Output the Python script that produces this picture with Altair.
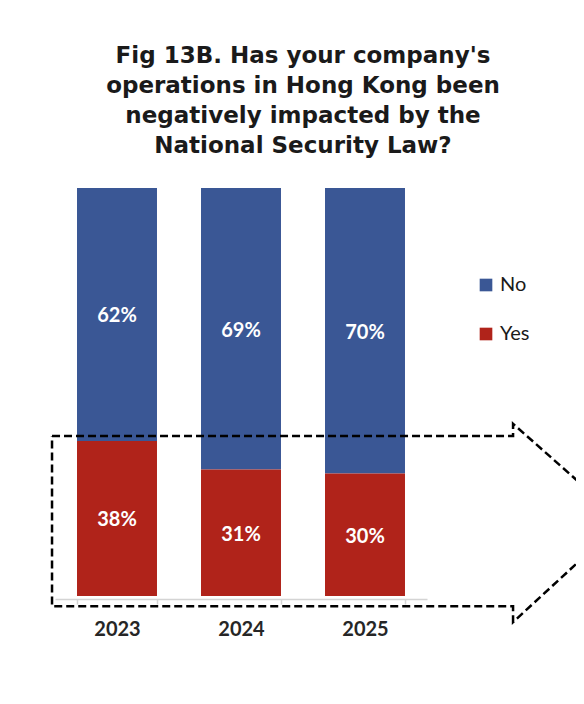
import altair as alt
import pandas as pd

# ---- data ----
years = ["2023", "2024", "2025"]
answers = ["No", "Yes"]
no_share = [62, 69, 70]
yes_share = [38, 31, 30]
colors = ["#3A5795", "#B0231A"]

# dashed arrow outline, in chart units (x: category bands 0..3, y: percent)
arrow_x = [-0.024, 3.694, 3.694, 4.58, 3.694, 3.694, -0.024, -0.024]
arrow_y = [39.2, 39.2, 42.2, 18.4, -6.4, -2.5, -2.5, 39.2]

title_lines = [
    "Fig 13B. Has your company's",
    "operations in Hong Kong been",
    "negatively impacted by the",
    "National Security Law?",
]

df = pd.DataFrame({
    "year": years * 2,
    "answer": ["No"] * len(years) + ["Yes"] * len(years),
    "share": no_share + yes_share,
})
df["ord"] = [1] * len(years) + [0] * len(years)
arrow_df = pd.DataFrame({"ax": arrow_x, "ay": arrow_y, "i": list(range(len(arrow_x)))})

FONT = "Lato"
TITLE_FONT = "DejaVu Sans"


def yscale():
    return alt.Scale(domain=[0, 100], nice=False)


def xscale():
    return alt.Scale(type="band", paddingInner=0.355, paddingOuter=0.1775)


bars = alt.Chart(df).mark_bar().encode(
    x=alt.X(
        "year:N",
        sort=years,
        scale=xscale(),
        axis=alt.Axis(
            title=None,
            labelAngle=0,
            labelFont=FONT,
            labelFontSize=20,
            labelFontWeight="bold",
            labelColor="#262626",
            labelPadding=15,
            domainColor="#d4d4d4",
            domainWidth=1.5,
            tickColor="#d4d4d4",
            tickWidth=1.5,
            tickSize=5,
            tickBand="extent",
            offset=3,
        ),
    ),
    y=alt.Y("share:Q", stack="zero", scale=yscale(), axis=None),
    color=alt.Color(
        "answer:N",
        scale=alt.Scale(domain=answers, range=colors),
        legend=alt.Legend(
            title=None,
            orient="none",
            legendX=421,
            legendY=87,
            symbolType="square",
            symbolSize=160,
            symbolStrokeWidth=0,
            labelFont=FONT,
            labelFontSize=20,
            labelColor="#1a1a1a",
            labelOffset=4,
            rowPadding=29,
            padding=0,
        ),
    ),
    order=alt.Order("ord:Q", sort="ascending"),
)

labels = (
    alt.Chart(df)
    .transform_stack(
        stack="share",
        groupby=["year"],
        sort=[alt.SortField("ord", order="ascending")],
        as_=["s0", "s1"],
    )
    .transform_calculate(mid="(datum.s0 + datum.s1) / 2", lab="datum.share + '%'")
    .mark_text(font=FONT, fontSize=20, fontWeight="bold", color="white", dy=2)
    .encode(
        x=alt.X("year:N", sort=years, scale=xscale(), axis=None),
        y=alt.Y("mid:Q", scale=yscale(), axis=None),
        text="lab:N",
    )
)

arrow = alt.Chart(arrow_df).mark_line(
    color="black", strokeWidth=2.5, strokeDash=[8, 4]
).encode(
    x=alt.X("ax:Q", scale=alt.Scale(domain=[0, 3], nice=False, zero=False), axis=None),
    y=alt.Y("ay:Q", scale=yscale(), axis=None),
    order="i:Q",
)

chart = (
    alt.layer(bars, arrow, labels)
    .resolve_scale(x="independent")
    .properties(
        width=372,
        height=408,
        autosize="none",
        padding={"left": 47, "top": 180, "right": 149, "bottom": 100},
        title=alt.Title(
            text=title_lines,
            font=TITLE_FONT,
            fontSize=23,
            fontWeight="bold",
            color="#1a1a1a",
            anchor="middle",
            frame="group",
            dx=62,
            offset=30,
            lineHeight=30,
        ),
    )
    .configure_view(stroke=None)
)

chart.save("out.html", embed_options={"renderer": "svg", "actions": False})
